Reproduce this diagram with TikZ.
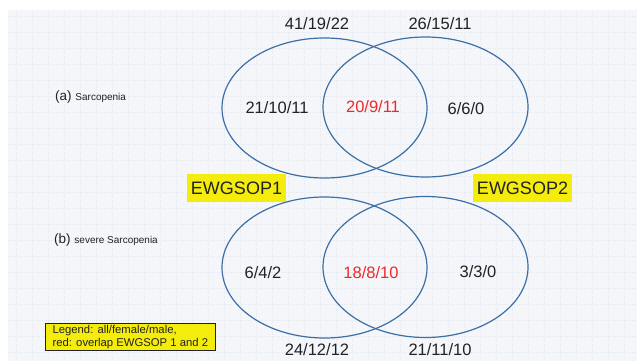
\documentclass[tikz,border=0pt]{standalone}
\usepackage{fontspec}
\setmainfont{Liberation Sans}
\definecolor{setline}{HTML}{3C6FA4}
\definecolor{hilite}{HTML}{F4EC0C}
\definecolor{overlap}{HTML}{F02828}
\definecolor{ink}{HTML}{222222}
\definecolor{paper}{HTML}{F4F6FA}
\definecolor{gridline}{HTML}{E3E8F0}
\tikzset{
  every node/.style={text=ink, inner sep=0pt},
  setring/.style={draw=setline, line width=1.2pt},
  count/.style={font=\fontsize{16.5}{18}\selectfont},
  overlapcount/.style={count, text=overlap},
  tagbox/.style={fill=hilite, minimum width=99pt, minimum height=28pt, font=\fontsize{18}{20}\selectfont},
  caption/.style={anchor=west},
}
\begin{document}
\begin{tikzpicture}[x=1pt, y=-1pt]
  \useasboundingbox (0,0) rectangle (637,361);
  % dotted paper background
  \fill[paper] (8,10) rectangle (637,361);
  \draw[gridline, dotted, line width=0.4pt, step=16pt] (8,10) grid (637,361);

  % (a) Sarcopenia
  \draw[setring] (324.5,108) ellipse [x radius=102.5, y radius=70];
  \draw[setring] (425.5,107) ellipse [x radius=102.5, y radius=70];
  \node[count] (a1tot) at (317,24) {41/19/22};
  \node[count] (a2tot) at (440,24) {26/15/11};
  \node[count] (a1only) at (277,108) {21/10/11};
  \node[overlapcount] (aboth) at (373,107) {20/9/11};
  \node[count] (a2only) at (466,109) {6/6/0};
  \node[caption] (alabel) at (55,97) {\fontsize{13.5}{15}\selectfont (a) \fontsize{10}{12}\selectfont Sarcopenia};

  % tags
  \node[tagbox] (tag1) at (236.5,188) {EWGSOP1};
  \node[tagbox] (tag2) at (522.5,188) {EWGSOP2};

  % (b) severe Sarcopenia
  \draw[setring] (324.5,267.5) ellipse [x radius=102.5, y radius=70.5];
  \draw[setring] (425.5,267) ellipse [x radius=102.5, y radius=70.5];
  \node[count] (b1only) at (263,273) {6/4/2};
  \node[overlapcount] (bboth) at (371,273) {18/8/10};
  \node[count] (b2only) at (478,272) {3/3/0};
  \node[count] (b1tot) at (317,350) {24/12/12};
  \node[count] (b2tot) at (440,350) {21/11/10};
  \node[caption] (blabel) at (54,240) {\fontsize{13.5}{15}\selectfont (b) \fontsize{10}{12}\selectfont severe Sarcopenia};

  % legend
  \node[draw=ink, line width=0.7pt, fill=hilite, anchor=north west, inner xsep=3pt, inner ysep=2pt,
        align=left, font=\fontsize{11.3}{12.5}\selectfont, minimum width=170pt, minimum height=27pt]
    (legend) at (45,323) {Legend: all/female/male,\\red: overlap EWGSOP 1 and 2};
\end{tikzpicture}
\end{document}
